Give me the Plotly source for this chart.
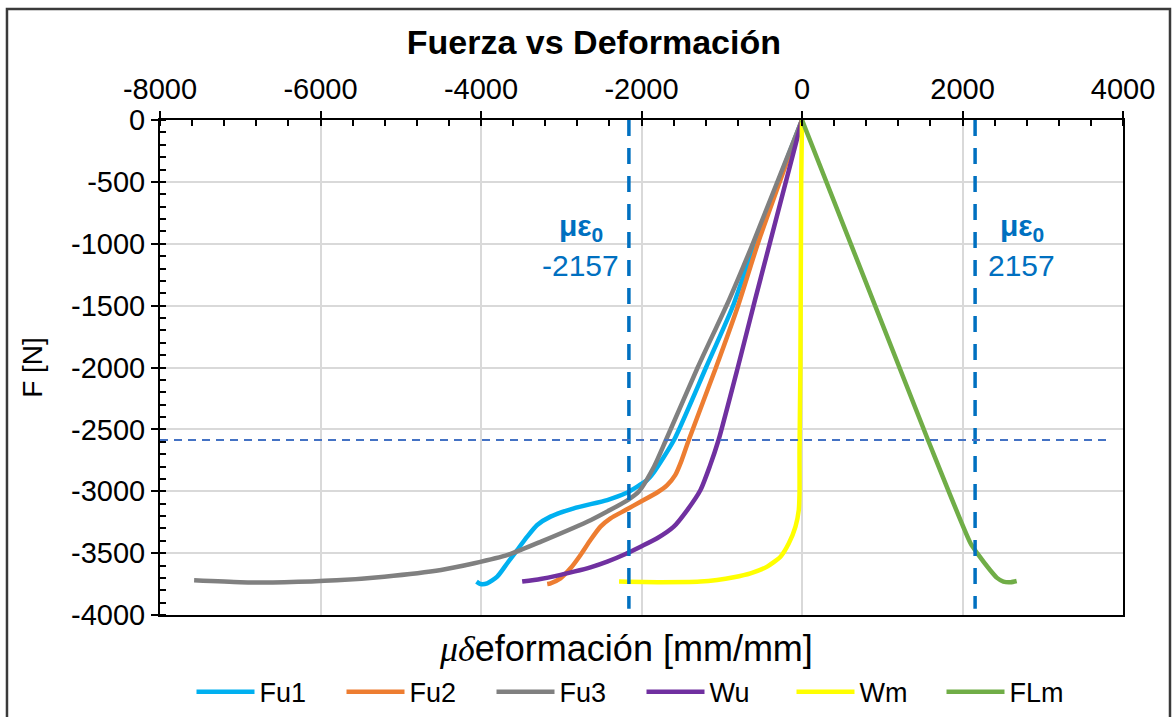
import plotly.graph_objects as go

# ---------------- data ----------------
fu1_x = [0, -586, -864, -1196, -1595, -1850, -1929, -2199, -2427, -2843, -3134, -3300, -3424, -3549, -3673, -3798, -3923, -4006, -4056]
fu1_y = [0, -994, -1509, -2000, -2586, -2850, -2909, -3017, -3071, -3138, -3205, -3273, -3367, -3475, -3582, -3690, -3744, -3750, -3730]

fu2_x = [0, -548, -801, -1072, -1411, -1500, -1580, -1680, -1805, -2012, -2199, -2386, -2511, -2636, -2760, -2885, -3010, -3134, -3175]
fu2_y = [0, -994, -1509, -2000, -2586, -2750, -2870, -2950, -3010, -3085, -3152, -3219, -3286, -3394, -3515, -3623, -3704, -3744, -3750]

fu3_x = [0, -610, -910, -1300, -1695, -1843, -2031, -2172, -2629, -3252, -3667, -4083, -4498, -5205, -5800, -6451, -7000, -7575]
fu3_y = [0, -994, -1455, -2000, -2586, -2800, -3000, -3071, -3232, -3407, -3515, -3582, -3636, -3690, -3720, -3735, -3735, -3720]

wu_x = [0, -586, -800, -1040, -1150, -1265, -1430, -1598, -1805, -2012, -2199, -2427, -2636, -2843, -3050, -3259, -3487]
wu_y = [0, -1455, -2000, -2586, -2800, -2990, -3152, -3286, -3380, -3448, -3507, -3569, -3615, -3650, -3682, -3709, -3730]

wm_x = [0, -10, -20, -31, -31, -40, -81, -164, -268, -434, -642, -850, -1057, -1265, -1800, -2280]
wm_y = [0, -500, -2000, -2667, -3017, -3152, -3286, -3421, -3529, -3609, -3663, -3695, -3717, -3730, -3735, -3730]

flm_x = [0, 1570, 2100, 2185, 2343, 2430, 2509, 2600, 2675]
flm_y = [0, -2586, -3420, -3502, -3636, -3700, -3730, -3735, -3725]

eps0 = 2157
f_ref = -2586

x_ticks = [-8000, -6000, -4000, -2000, 0, 2000, 4000]
x_labels = ["-8000", "-6000", "-4000", "-2000", "0", "2000", "4000"]
y_ticks = [0, -500, -1000, -1500, -2000, -2500, -3000, -3500, -4000]
y_labels = ["0", "-500", "-1000", "-1500", "-2000", "-2500", "-3000", "-3500", "-4000"]

series = [
    ("Fu1", fu1_x, fu1_y, "#00B0F0"),
    ("Fu2", fu2_x, fu2_y, "#ED7D31"),
    ("Fu3", fu3_x, fu3_y, "#808080"),
    ("Wu", wu_x, wu_y, "#7030A0"),
    ("Wm", wm_x, wm_y, "#FFFF00"),
    ("FLm", flm_x, flm_y, "#70AD47"),
]

FONT = "Liberation Sans, Arial, sans-serif"

fig = go.Figure()
for name, xs, ys, col in series:
    fig.add_trace(go.Scatter(x=xs, y=ys, mode="lines", name=name,
                             line=dict(color=col, width=4.5, shape="spline", smoothing=0.6)))

# vertical dashed lines at +-eps0
for xv in (-eps0, eps0):
    fig.add_shape(type="line", xref="x", yref="y", x0=xv, x1=xv, y0=0, y1=-3950,
                  line=dict(color="#0070C0", width=3.5, dash="16px,12px"), layer="above")
# horizontal reference line
fig.add_shape(type="line", xref="x", yref="y", x0=-8000, x1=3820, y0=f_ref, y1=f_ref,
              line=dict(color="#4472C4", width=1.8, dash="8px,6px"), layer="above")

# outer border
fig.add_shape(type="rect", xref="paper", yref="paper", x0=-0.1589, x1=1.0488, y0=-0.25, y1=1.224,
              line=dict(color="#3a3a3a", width=2.5), layer="above")

blue = "#0070C0"
ann = [
    (-2754, -870, "<b>με<sub>0</sub></b>"),
    (-2754, -1175, "-2157"),
    (2740, -870, "<b>με<sub>0</sub></b>"),
    (2730, -1175, "2157"),
]
for xa, ya, txt in ann:
    fig.add_annotation(x=xa, y=ya, xref="x", yref="y", text=txt, showarrow=False,
                       font=dict(family=FONT, size=30, color=blue))

# x-axis title (bottom)
fig.add_annotation(x=0.484, y=-0.068, xref="paper", yref="paper", showarrow=False,
                   text="<span style=\"font-family:'Liberation Serif'\"><i>μδ</i></span>eformación [mm/mm]",
                   font=dict(family=FONT, size=36, color="#000000"), yanchor="middle")

fig.update_layout(
    width=1176, height=717,
    margin=dict(l=160, r=53, t=120, b=102, autoexpand=False),
    paper_bgcolor="white", plot_bgcolor="white",
    font=dict(family=FONT, size=26, color="#000000"),
    title=dict(text="<b>Fuerza vs Deformación</b>", x=0.505, xanchor="center",
               y=1 - 42 / 717, yanchor="middle", yref="container",
               font=dict(family=FONT, size=34, color="#000000")),
    showlegend=True,
    legend=dict(orientation="h", x=0.5, xanchor="center", y=-0.156, yanchor="middle",
                font=dict(family=FONT, size=27, color="#000000"),
                itemwidth=58, entrywidth=77, entrywidthmode="pixels", bgcolor="rgba(0,0,0,0)"),
    xaxis=dict(range=[-8000, 4000], side="top", tickvals=x_ticks, ticktext=x_labels,
               showgrid=True, gridcolor="#d9d9d9", gridwidth=1.5,
               zeroline=False, showline=True, linecolor="#000000", linewidth=2, mirror=True,
               ticks="outside", ticklen=7, tickcolor="#000000", tickwidth=1.5,
               tickfont=dict(family=FONT, size=29, color="#000000"),
               minor=dict(ticks="inside", ticklen=6, dtick=400, tick0=-8000, tickcolor="#000000", tickwidth=1.5, showgrid=False)),
    yaxis=dict(range=[-4000, 0], tickvals=y_ticks, ticktext=y_labels,
               showgrid=True, gridcolor="#d9d9d9", gridwidth=1.5,
               zeroline=False, showline=True, linecolor="#000000", linewidth=2, mirror=True,
               ticks="outside", ticklen=7, tickcolor="#000000", tickwidth=1.5,
               tickfont=dict(family=FONT, size=29, color="#000000"),
               title=dict(text="F [N]", font=dict(family=FONT, size=28, color="#000000"), standoff=20),
               minor=dict(ticks="inside", ticklen=6, dtick=100, tick0=0, tickcolor="#000000", tickwidth=1.5, showgrid=False)),
)

fig.write_html("out.html")
